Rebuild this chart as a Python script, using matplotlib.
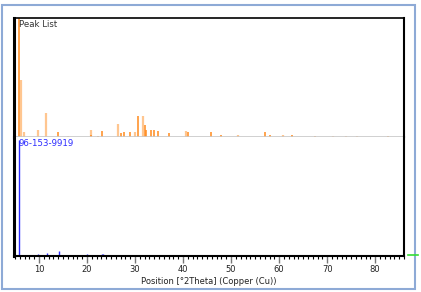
import matplotlib
matplotlib.use("Agg")
import matplotlib.pyplot as plt
from matplotlib.patches import Rectangle
from matplotlib.ticker import MultipleLocator

# peak list (measured), relative intensity in %
peak_pos_strong = [5.9, 14.0, 20.9, 22.3, 23.1, 27.1, 27.7, 29.0, 30.6, 32.0, 32.3,
                   33.3, 34.0, 34.8, 37.0, 41.1, 45.8, 47.9, 57.1, 58.1, 62.7,
                   67.5, 82.7]
peak_int_strong = [100, 4, 2, 1, 5, 3, 4, 4, 18, 10, 6,
                   6, 6, 5, 3, 4, 4, 2, 4, 2, 2,
                   1, 1]
peak_pos_light = [6.2, 6.9, 9.9, 11.5, 16.0, 20.8, 26.5, 30.0, 31.7, 40.6,
                  51.4, 60.8, 71.3, 74.0, 76.2]
peak_int_light = [48, 4, 6, 20, 1, 6, 11, 4, 18, 5,
                  2, 2, 1, 1, 1]

# reference pattern 96-153-9919
ref_pos = [5.9, 9.7, 11.6, 14.2, 19.9, 23.1, 23.4, 24.6, 25.1, 26.9]
ref_int = [100, 2, 3, 4, 2, 2, 2, 1, 1, 1]

xticks = [10, 20, 30, 40, 50, 60, 70, 80]
W, H = 421, 292

fig = plt.figure(figsize=(W / 100, H / 100), dpi=100)
fig.patch.set_facecolor("white")

# outer frame
fig.patches.append(Rectangle((2 / W, 3 / H), 413 / W, 284 / H, transform=fig.transFigure,
                             fill=False, edgecolor="#8eaad6", lw=1.5))

left, right = 14 / W, 404 / W
ax_top = fig.add_axes([left, (H - 137) / H, right - left, (137 - 18) / H])
ax_bot = fig.add_axes([left, (H - 256) / H, right - left, (256 - 137) / H], sharex=ax_top)

orange = "#ff8a1c"
light = "#ffc690"
blue = "#2b2bff"

ax_top.vlines(peak_pos_light, 0, peak_int_light, color=light, lw=1.6)
ax_top.vlines(peak_pos_strong, 0, peak_int_strong, color=orange, lw=1.1)
ax_top.set_ylim(0, 100)
ax_top.set_xlim(4.8, 86)
for s in ["left", "top", "right"]:
    ax_top.spines[s].set_color("black")
ax_top.spines["left"].set_linewidth(2.2)
ax_top.spines["top"].set_linewidth(1.2)
ax_top.spines["right"].set_linewidth(1.5)
ax_top.spines["bottom"].set_color("#c8c8c8")
ax_top.spines["bottom"].set_linewidth(1.2)
ax_top.tick_params(axis="both", which="both", length=0, labelbottom=False, labelleft=False)
ax_top.text(0.012, 0.985, "Peak List", transform=ax_top.transAxes, fontsize=6.2,
            color="#333333", va="top", ha="left")

ax_bot.vlines(ref_pos, 0, ref_int, color=blue, lw=1.0)
ax_bot.set_ylim(0, 102.6)
ax_bot.spines["top"].set_visible(False)
ax_bot.spines["left"].set_linewidth(2.2)
ax_bot.spines["right"].set_linewidth(1.5)
ax_bot.spines["bottom"].set_linewidth(1.5)
ax_bot.tick_params(axis="y", which="both", length=0, labelleft=False)
ax_bot.set_xticks(xticks)
ax_bot.xaxis.set_minor_locator(MultipleLocator(1))
ax_bot.tick_params(axis="x", which="major", length=5, width=1, color="#777777",
                   labelsize=6, pad=1.5, labelcolor="#222222")
ax_bot.tick_params(axis="x", which="minor", length=2.5, width=0.8, color="black")
ax_bot.set_xlabel("Position [°2Theta] (Copper (Cu))", fontsize=6, color="#222222", labelpad=2)
ax_bot.text(0.012, 0.985, "96-153-9919", transform=ax_bot.transAxes, fontsize=6.2,
            color=blue, va="top", ha="left")

# small green marker at the right of the axis
fig.add_artist(plt.Line2D([408 / W, 418 / W], [(H - 255) / H] * 2, color="#33dd33",
                          lw=1.2, transform=fig.transFigure))

fig.savefig("out.png", dpi=100)
